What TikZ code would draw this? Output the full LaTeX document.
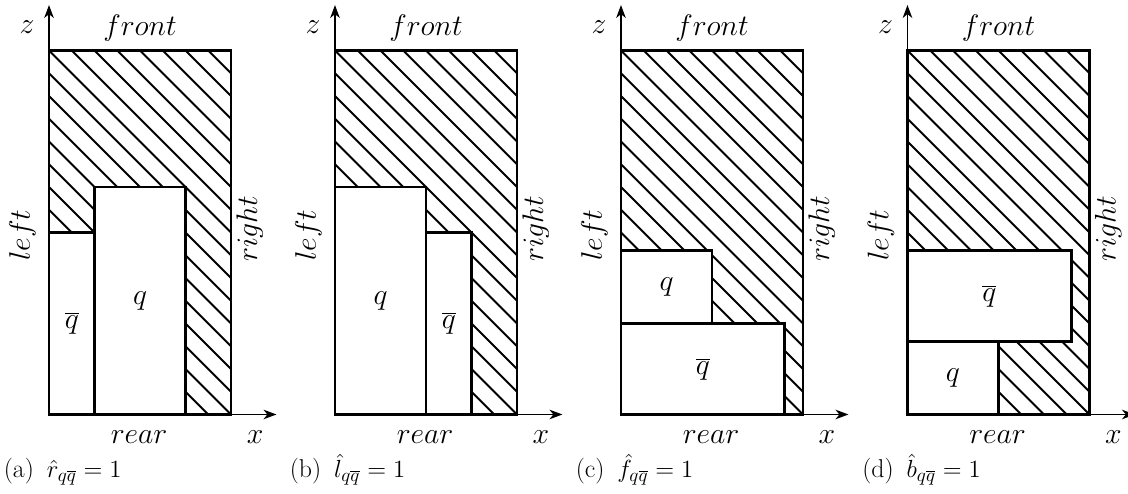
\documentclass[tikz,border=0pt]{standalone}
\usetikzlibrary{arrows.meta}
\tikzset{
  hatchline/.style={line width=1.1pt},
  boxline/.style={line width=1.7pt, fill=white},
  frameline/.style={line width=1.7pt},
  axisline/.style={line width=1.1pt, -{Stealth[length=7.5pt,width=5.5pt,inset=2.2pt]}},
  lbl/.style={inner sep=0pt, font=\LARGE},
  caplbl/.style={inner sep=0pt, anchor=base west, font=\fontsize{15}{18}\selectfont},
}
\newcommand\myhatch{%
  \begin{scope}
    \clip (0,0) rectangle (2,4);
    \foreach \c in {0.25,0.5,...,5.75} \draw[hatchline] (\c,0) -- ({\c-4},4);
  \end{scope}}
\newcommand\myframe[2]{%
  \draw[frameline] (0,0) rectangle (2,4);
  \coordinate (#1o) at (0,0);
  \coordinate (#1xe) at (2.5,0);
  \coordinate (#1ze) at (0,4.5);
  \draw[axisline] (#1o) -- (#1xe);
  \draw[axisline] (#1o) -- (#1ze);
  \node[lbl] (#1zl) at (-0.242,4.253) {$z$};
  \node[lbl, anchor=base] (#1front) at (1.0,4.17) {$front$};
  \node[lbl, anchor=base] (#1rear) at (0.99,-0.324) {$rear$};
  \node[lbl, anchor=base] (#1xl) at (2.264,-0.324) {$x$};
  \node[lbl, anchor=base, rotate=90] (#1left) at (-0.209,1.97) {$left$};
  \node[lbl, anchor=base, rotate=90] (#1right) at (2.286,2.04) {$right$};
  \node[caplbl] (#1cap) at (-0.5,-0.695) {#2};}
\begin{document}
\begin{tikzpicture}[x=52.91pt,y=52.91pt]
\useasboundingbox (0,0) rectangle (12.396,5.4286);
% (a)
\begin{scope}[shift={(0.5385,0.8736)}]
  \myhatch
  \draw[boxline] (0,0) rectangle (0.5,2);
  \draw[boxline] (0.5,0) rectangle (1.5,2.5);
  \node[lbl] (aqb) at (0.25,1) {$\overline{q}$};
  \node[lbl] (aq) at (1,1.25) {$q$};
  \myframe{a}{(a)\enspace$\hat{r}_{q\overline{q}}=1$}
\end{scope}
% (b)
\begin{scope}[shift={(3.6813,0.8736)}]
  \myhatch
  \draw[boxline] (0,0) rectangle (1,2.5);
  \draw[boxline] (1,0) rectangle (1.5,2);
  \node[lbl] (bq) at (0.5,1.25) {$q$};
  \node[lbl] (bqb) at (1.25,1) {$\overline{q}$};
  \myframe{b}{(b)\enspace$\hat{l}_{q\overline{q}}=1$}
\end{scope}
% (c)
\begin{scope}[shift={(6.8242,0.8736)}]
  \myhatch
  \draw[boxline] (0,0) rectangle (1.8,1);
  \draw[boxline] (0,1) rectangle (1,1.8);
  \node[lbl] (cqb) at (0.9,0.5) {$\overline{q}$};
  \node[lbl] (cq) at (0.5,1.4) {$q$};
  \myframe{c}{(c)\enspace$\hat{f}_{q\overline{q}}=1$}
\end{scope}
% (d)
\begin{scope}[shift={(9.9725,0.8736)}]
  \myhatch
  \draw[boxline] (0,0) rectangle (1,0.8);
  \draw[boxline] (0,0.8) rectangle (1.8,1.8);
  \node[lbl] (dq) at (0.5,0.4) {$q$};
  \node[lbl] (dqb) at (0.9,1.3) {$\overline{q}$};
  \myframe{d}{(d)\enspace$\hat{b}_{q\overline{q}}=1$}
\end{scope}
\end{tikzpicture}
\end{document}
